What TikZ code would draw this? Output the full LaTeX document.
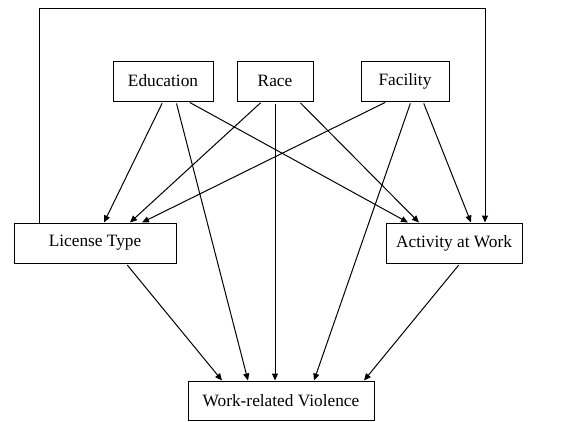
\documentclass[tikz,border=0pt]{standalone}
\usepackage{fontspec}
\setmainfont{Liberation Serif}
\usetikzlibrary{arrows.meta}
\begin{document}
\begin{tikzpicture}[x=1pt,y=-1pt,
  box/.style={draw,line width=1pt,rectangle,inner sep=0pt,font=\fontsize{17.3}{20}\selectfont},
  arr/.style={line width=1pt,-{Triangle[length=7pt,width=6pt]},shorten <=2pt}]
\useasboundingbox (0,0) rectangle (561,421);
\node[box,minimum width=100pt,minimum height=40pt] (edu) at (163,81) {Education};
\node[box,minimum width=76pt,minimum height=40pt] (race) at (275,81) {Race};
\node[box,minimum width=88pt,minimum height=40pt] (fac) at (405,81) {Facility};
\node[box,minimum width=162pt,minimum height=40pt] (lic) at (95,243) {License Type};
\node[box,minimum width=136pt,minimum height=40pt] (act) at (454,243) {Activity at Work};
\node[box,minimum width=186pt,minimum height=39pt] (wrv) at (281,400.5) {Work-related Violence};
\coordinate (c1) at (39,8.5);
\coordinate (c2) at (485,8.5);
% Education
\draw[arr] ([xshift=0pt]edu.south) -- ([xshift=9pt]lic.north);
\draw[arr] ([xshift=13pt]edu.south) -- ([xshift=-33pt]wrv.north);
\draw[arr] ([xshift=25pt]edu.south) -- ([xshift=-46pt]act.north);
% Race
\draw[arr] ([xshift=-13pt]race.south) -- ([xshift=35pt]lic.north);
\draw[arr] (race.south) -- ([xshift=-6pt]wrv.north);
\draw[arr] ([xshift=24pt]race.south) -- ([xshift=-35pt]act.north);
% Facility
\draw[arr] ([xshift=-18pt]fac.south) -- ([xshift=47pt]lic.north);
\draw[arr] ([xshift=6pt]fac.south) -- ([xshift=33pt]wrv.north);
\draw[arr] ([xshift=18pt]fac.south) -- ([xshift=17pt]act.north);
% License / Activity
\draw[arr] ([xshift=31pt]lic.south) -- ([xshift=-59pt]wrv.north);
\draw[arr] ([xshift=6pt]act.south) -- ([xshift=83pt]wrv.north);
% loop
\draw[line width=1pt,-{Triangle[length=7pt,width=6pt]}] ([xshift=-56pt]lic.north) -- (lic.north -| c1) |- (c1) -- (c2) -- ([xshift=31pt]act.north);
\end{tikzpicture}
\end{document}
